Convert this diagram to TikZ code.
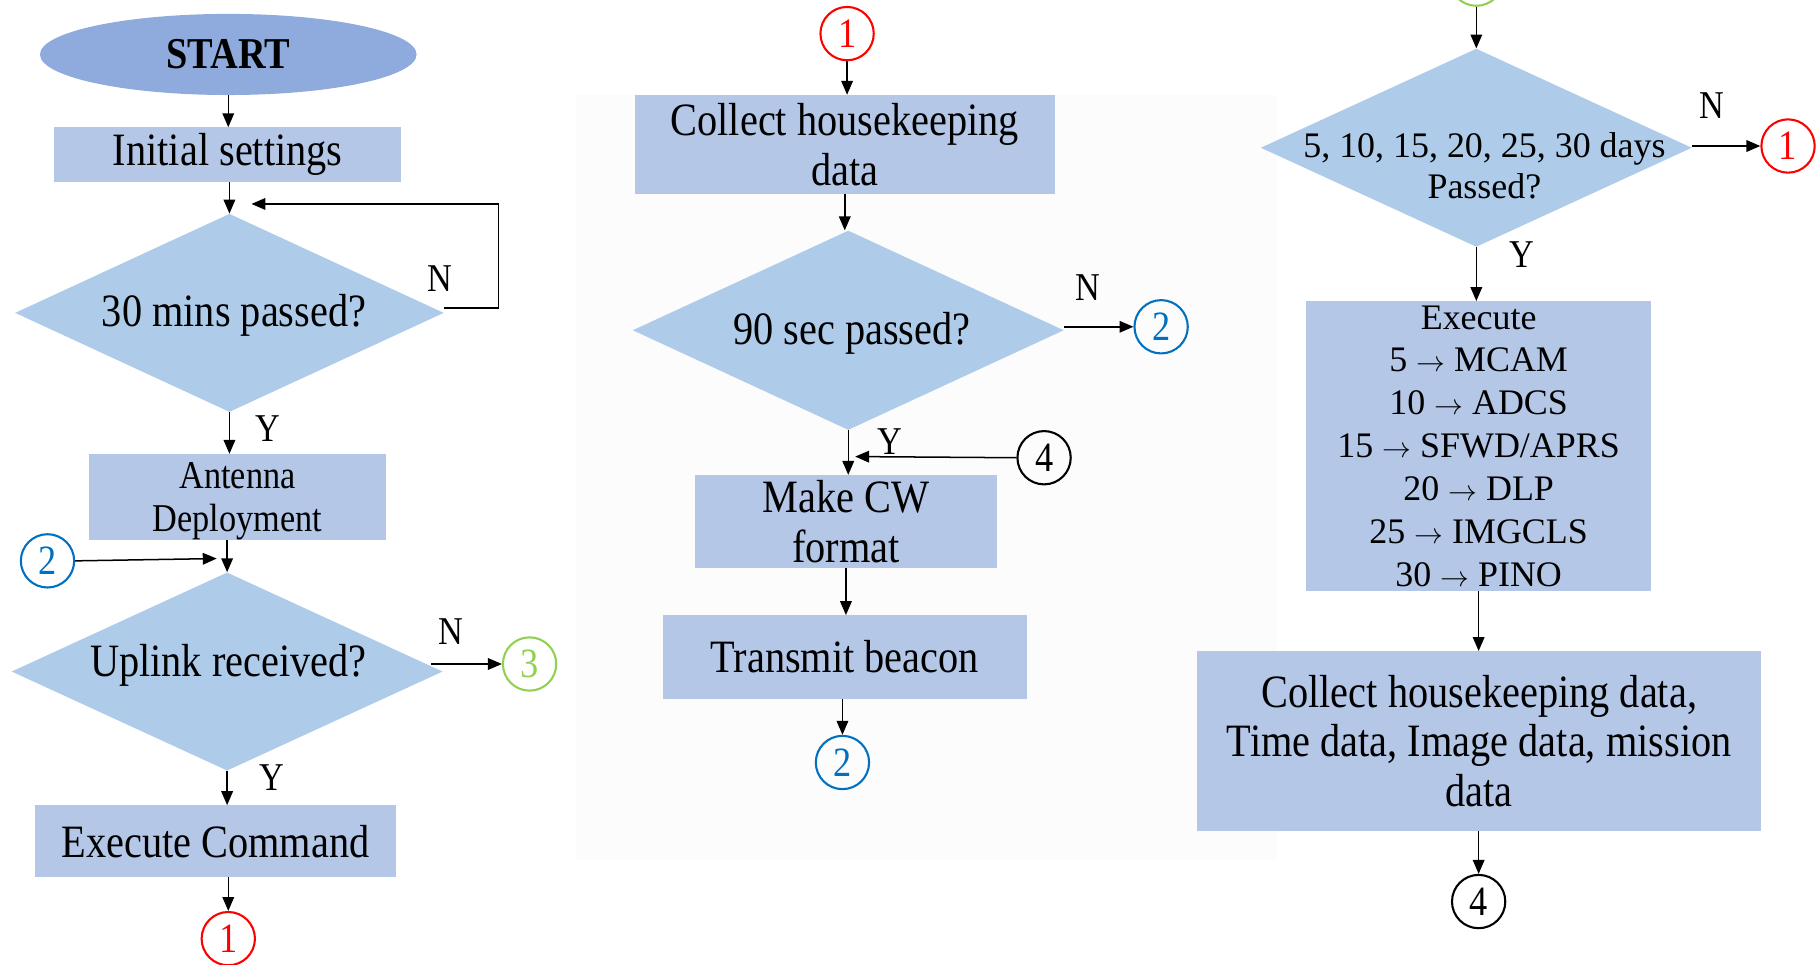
\documentclass[tikz,border=0pt]{standalone}
\usepackage{fontspec}
\setmainfont{Liberation Serif}[FakeStretch=0.87]
\newfontfamily\wideserif{Liberation Serif}
\usetikzlibrary{shapes.geometric,arrows.meta}
\definecolor{startc}{HTML}{8FAADC}
\definecolor{boxc}{HTML}{B4C7E7}
\definecolor{diac}{HTML}{AECCEA}
\definecolor{panelc}{HTML}{FCFCFC}
\definecolor{conred}{HTML}{FF0000}
\definecolor{conblue}{HTML}{0070C0}
\definecolor{congreen}{HTML}{92D050}
\newcommand{\ra}{$\rightarrow$}
\tikzset{
 box/.style={rectangle, fill=boxc, inner sep=0pt, align=center},
 dia/.style={diamond, fill=diac, inner sep=0pt},
 con/.style={circle, draw=#1, line width=1.8pt, minimum size=46pt, inner sep=0pt, text=#1, font=\fontsize{36}{38}\selectfont},
 arr/.style={line width=1.3pt, -{Triangle[length=12pt,width=10pt]}},
 lbl/.style={inner sep=0pt, font=\fontsize{34}{36}\selectfont},
 big/.style={font=\fontsize{40}{43}\selectfont},
 txt/.style={inner sep=0pt, align=center},
}
\begin{document}
\begin{tikzpicture}[x=1pt,y=-1pt]
\useasboundingbox (0,0) rectangle (1568,832);
\fill[panelc] (497,82) rectangle (1102,742);

% ---------- left column ----------
\node[ellipse, fill=startc, minimum width=325pt, minimum height=70pt, inner sep=0pt,
      font=\fontsize{38}{40}\selectfont\bfseries] (start) at (197,47) {START};
\node[box, big, minimum width=299pt, minimum height=47pt] (init) at (196.5,133.5) {Initial settings};
\node[dia, minimum width=370pt, minimum height=171pt] (d1) at (198,270) {};
\node[txt, big] (d1t) at (202,272) {30 mins passed?};
\node[box, font=\fontsize{34}{37}\selectfont, minimum width=256pt, minimum height=72pt] (ant) at (205,429) {\rule{0pt}{30pt}Antenna\\Deployment};
\node[con=conblue] (c2a) at (41,484) {2};
\coordinate (joinA) at (187,482);
\node[dia, minimum width=372pt, minimum height=171pt] (d2) at (196,579.5) {};
\node[txt, big] (d2t) at (197,574) {Uplink received?};
\node[con=congreen] (c3) at (457,573) {3};
\node[box, big, minimum width=312pt, minimum height=62pt] (exe) at (186,726) {Execute Command};
\node[con=conred] (c1a) at (197,810) {1};

\draw[arr] (start.south) -- (init.north -| start.south);
\draw[arr] (init.south -| d1.north) -- (d1.north);
\coordinate (loopend) at (217,176);
\draw[arr] ([yshift=4pt]d1.east) -- ++(47,0) |- (loopend);
\node[lbl] (n1) at (380,240) {N};
\draw[arr] (d1.south) -- (ant.north -| d1.south);
\node[lbl] (y1) at (231,370) {Y};
\draw[arr] (c2a.east) -- (joinA);
\draw[arr] (ant.south -| d2.north) -- (d2.north);
\draw[arr] ([xshift=-10pt]d2.east |- c3.west) -- (c3.west);
\node[lbl] (n2) at (389,545) {N};
\draw[arr] (d2.south) -- (exe.north -| d2.south);
\node[lbl] (y2) at (235,671) {Y};
\draw[arr] (exe.south -| c1a.north) -- (c1a.north);

% ---------- middle column ----------
\node[con=conred] (c1b) at (731,29) {1};
\node[box, big, minimum width=362pt, minimum height=85pt] (chk) at (729,124.5) {Collect housekeeping\\data};
\node[dia, minimum width=372pt, minimum height=172pt] (d3) at (732,285) {};
\node[txt, big] (d3t) at (735,288) {90 sec passed?};
\node[con=conblue] (c2b) at (1002,282) {2};
\node[con=black] (c4a) at (901,395) {4};
\coordinate (joinB) at (738,394);
\node[box, big, minimum width=260pt, minimum height=80pt] (cw) at (730,450) {Make CW\\format};
\node[box, big, minimum width=314pt, minimum height=72pt] (tx) at (729,567) {Transmit beacon};
\node[con=conblue] (c2c) at (727,658) {2};

\draw[arr] (c1b.south) -- (chk.north -| c1b.south);
\draw[arr] (chk.south) -- (d3.north -| chk.south);
\draw[arr] (d3.east |- c2b.west) -- (c2b.west);
\node[lbl] (n3) at (939,248) {N};
\draw[arr] (d3.south) -- (cw.north -| d3.south);
\node[lbl] (y3) at (768,381) {Y};
\draw[arr] (c4a.west) -- (joinB);
\draw[arr] (cw.south) -- (tx.north -| cw.south);
\draw[arr] (tx.south -| c2c.north) -- (c2c.north);

% ---------- right column ----------
\node[circle, draw=congreen, line width=1.8pt, minimum size=46pt, inner sep=0pt] (c3b) at (1274,-18) {};
\node[dia, minimum width=372pt, minimum height=171pt] (d4) at (1274,127.5) {};
\node[txt, font=\wideserif\fontsize{31}{36}\selectfont] (d4t) at (1281,143) {5, 10, 15, 20, 25, 30 days\\Passed?};
\node[con=conred] (c1c) at (1543,126) {1};
\node[box, font=\wideserif\fontsize{31}{37}\selectfont, minimum width=298pt, minimum height=250pt] (exe2) at (1276,385)
 {Execute\\5 \ra{} MCAM\\10 \ra{} ADCS\\15 \ra{} SFWD/APRS\\20 \ra{} DLP\\25 \ra{} IMGCLS\\30 \ra{} PINO};
\node[box, font=\fontsize{40}{42.5}\selectfont, minimum width=487pt, minimum height=155pt] (col) at (1276.5,639.5)
 {Collect housekeeping data,\\Time data, Image data, mission\\data};
\node[con=black] (c4b) at (1276,778) {4};

\draw[arr] (c3b.south) -- (d4.north);
\draw[arr] (d4.east |- c1c.west) -- (c1c.west);
\node[lbl] (n4) at (1477,91) {N};
\draw[arr] (d4.south) -- (exe2.north -| d4.south);
\node[lbl] (y4) at (1313,220) {Y};
\draw[arr] (exe2.south) -- (col.north -| exe2.south);
\draw[arr] (col.south -| c4b.north) -- (c4b.north);
\end{tikzpicture}
\end{document}
